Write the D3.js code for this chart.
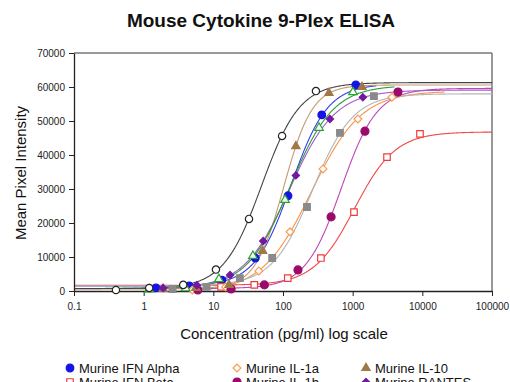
<!DOCTYPE html>
<html><head><meta charset="utf-8">
<script src="https://cdn.jsdelivr.net/npm/d3@7"></script>
<style>body{margin:0;background:#fff}svg{display:block;font-family:"Liberation Sans",Arial,sans-serif}</style>
</head><body>
<svg id="c" width="510" height="382"></svg>
<script>
// ---- data ----
const seriesNames = ["Murine IFN Alpha","Murine IFN Beta","Murine IL-1a","Murine IL-1b","Murine IL-10","Murine RANTES","Murine IL-6","Murine KC","Murine TNF Alpha"];
const concIFNa   = [1.5, 4.5, 13.3, 40, 118, 360, 1110];
const valIFNa    = [900, 1500, 3200, 9700, 28000, 51800, 60600];
const concIFNb   = [12.9, 38.7, 117, 350, 1045, 3110, 9250];
const valIFNb    = [1200, 1800, 3800, 9700, 23200, 39400, 46200];
const concIL1a   = [5, 15, 45, 126, 375, 1190, 3660];
const valIL1a    = [300, 1200, 5900, 17400, 35900, 50600, 57000];
const concIL1b   = [6, 18, 54, 164, 490, 1500, 4470];
const valIL1b    = [300, 600, 1800, 6200, 21800, 47000, 58500];
const concIL10   = [1.9, 5.6, 16.8, 51, 153, 457, 1360];
const valIL10    = [600, 900, 1800, 11800, 42600, 58200, 60000];
const concRANTES = [1.9, 5.8, 17.4, 52, 153, 472, 1400];
const valRANTES  = [900, 1700, 4700, 14700, 34000, 50600, 57000];
const concGreen  = [1.2, 4, 12, 37, 107, 329, 1010];
const valGreen   = [500, 800, 3500, 10300, 26800, 48000, 58500];
const concGray   = [2.6, 8, 24, 70, 221, 657, 2020];
const valGray    = [600, 1200, 3800, 9700, 24700, 46500, 57300];
const concBlack  = [0.4, 1.2, 3.7, 10.9, 32.5, 97, 297];
const valBlack   = [300, 900, 1800, 6300, 21200, 45600, 58800];
// upper asymptote of each fitted curve
const topPlateau = [60900, 46800, 58800, 59600, 60600, 59100, 60500, 58000, 61300];
const curveEnd   = [2200, 100000, 21000, 100000, 100000, 100000, 4000, 100000, 100000];
const xTicks = [0.1, 1, 10, 100, 1000, 10000, 100000];
const xTickLabels = ["0.1","1","10","100","1000","10000","100000"];
const yTicks = [0, 10000, 20000, 30000, 40000, 50000, 60000, 70000];

const concs = [concIFNa, concIFNb, concIL1a, concIL1b, concIL10, concRANTES, concGreen, concGray, concBlack];
const vals  = [valIFNa, valIFNb, valIL1a, valIL1b, valIL10, valRANTES, valGreen, valGray, valBlack];
const diamond = { draw(ctx, size) { const r = Math.sqrt(size) / Math.SQRT2; ctx.moveTo(0, -r); ctx.lineTo(r, 0); ctx.lineTo(0, r); ctx.lineTo(-r, 0); ctx.closePath(); } };
const styles = [
  {sym:d3.symbolCircle,  size:46, fill:"#1414e6", stroke:"#1414e6", line:"#3a3af0"},
  {sym:d3.symbolSquare,  size:42, fill:"#fff",    stroke:"#f03c3c", line:"#f04848"},
  {sym:diamond,          size:30, fill:"#fff",    stroke:"#fb9a4e", line:"#fb9244"},
  {sym:d3.symbolCircle,  size:50, fill:"#990a6a", stroke:"#990a6a", line:"#c046b4"},
  {sym:d3.symbolTriangle,size:30, fill:"#a07848", stroke:"#a07848", line:"#c49a70"},
  {sym:diamond,          size:26, fill:"#7318a0", stroke:"#7318a0", line:"#a65ad0"},
  {sym:d3.symbolTriangle,size:32, fill:"#fff",    stroke:"#22a829", line:"#2aa02f"},
  {sym:d3.symbolSquare,  size:44, fill:"#8a8a8a", stroke:"#8a8a8a", line:"#b4b4b4"},
  {sym:d3.symbolCircle,  size:42, fill:"#fff",    stroke:"#222",    line:"#444"}
];

// ---- 4PL fit with fixed top (Nelder-Mead) ----
function nelderMead(f, x0, steps, iters) {
  const n = x0.length;
  let S = [x0.slice()];
  for (let i = 0; i < n; i++) { const p = x0.slice(); p[i] += steps[i]; S.push(p); }
  let F = S.map(f);
  for (let it = 0; it < iters; it++) {
    const idx = d3.range(n + 1).sort((a, b) => F[a] - F[b]);
    S = idx.map(i => S[i]); F = idx.map(i => F[i]);
    const c = d3.range(n).map(j => d3.mean(S.slice(0, n), p => p[j]));
    const w = S[n];
    const xr = c.map((v, j) => v + (v - w[j])); const fr = f(xr);
    if (fr < F[0]) {
      const xe = c.map((v, j) => v + 2 * (v - w[j])); const fe = f(xe);
      if (fe < fr) { S[n] = xe; F[n] = fe; } else { S[n] = xr; F[n] = fr; }
    } else if (fr < F[n - 1]) { S[n] = xr; F[n] = fr; }
    else {
      const xc = c.map((v, j) => v + 0.5 * (w[j] - v)); const fc = f(xc);
      if (fc < F[n]) { S[n] = xc; F[n] = fc; }
      else { for (let i = 1; i <= n; i++) { S[i] = S[i].map((v, j) => S[0][j] + 0.5 * (v - S[0][j])); F[i] = f(S[i]); } }
    }
  }
  return S[d3.minIndex(F)];
}
function fourPL(A, D, lc, B, x) { return D + (A - D) / (1 + Math.pow(x / Math.pow(10, lc), B)); }
function fit(cs, vs, D) {
  const f = p => { if (p[2] <= 0.2 || p[2] > 5) return 1e30; return d3.sum(cs, (c, i) => (fourPL(p[0], D, p[1], p[2], c) - vs[i]) ** 2); };
  let best = null, bf = Infinity;
  const lmid = d3.mean(cs, c => Math.log10(c));
  for (const B0 of [0.8, 1.2, 1.8]) for (const dl of [-0.3, 0, 0.3]) {
    let p = [d3.min(vs), lmid + dl, B0];
    for (let k = 0; k < 3; k++) p = nelderMead(f, p, [300, 0.2, 0.2], 500);
    const v = f(p); if (v < bf) { bf = v; best = p; }
  }
  return x => fourPL(best[0], D, best[1], best[2], x);
}

// ---- drawing ----
const svg = d3.select("#c");
const x = d3.scaleLog().domain([0.1, 100000]).range([74, 492]);
const y = d3.scaleLinear().domain([0, 70000]).range([291, 53]);

svg.append("text").attr("x", 261).attr("y", 27).attr("text-anchor", "middle")
  .attr("font-size", 19).attr("font-weight", "bold").attr("fill", "#111").text("Mouse Cytokine 9-Plex ELISA");

svg.append("defs").append("clipPath").attr("id", "clip").append("rect")
  .attr("x", 74).attr("y", 53).attr("width", 418).attr("height", 238);

// frame
svg.append("line").attr("x1", 74).attr("x2", 492).attr("y1", 53).attr("y2", 53).attr("stroke", "#777").attr("stroke-width", 1.5);
svg.append("line").attr("x1", 492).attr("x2", 492).attr("y1", 53).attr("y2", 291).attr("stroke", "#777").attr("stroke-width", 1.5);

const gCurves = svg.append("g").attr("clip-path", "url(#clip)");
const line = d3.line().x(d => x(d[0])).y(d => y(d[1]));
concs.forEach((cs, i) => {
  const fn = fit(cs, vals[i], topPlateau[i]);
  const l1 = Math.log10(curveEnd[i]);
  const pts = d3.range(-1, l1 + 1e-9, 0.01).map(l => [Math.pow(10, l), fn(Math.pow(10, l))]);
  gCurves.append("path").attr("d", line(pts)).attr("fill", "none").attr("stroke", styles[i].line).attr("stroke-width", 1.1);
});

// axes
const ax = svg.append("g").attr("transform", "translate(0,291)")
  .call(d3.axisBottom(x).tickValues(xTicks).tickFormat((d, i) => xTickLabels[i]).tickSize(5).tickSizeOuter(0).tickPadding(7));
const ay = svg.append("g").attr("transform", "translate(74,0)")
  .call(d3.axisLeft(y).tickValues(yTicks).tickFormat(d3.format("d")).tickSize(5).tickSizeOuter(0).tickPadding(4));
[ax, ay].forEach(g => {
  g.selectAll("text").attr("font-size", 10).attr("fill", "#222").attr("font-family", "Liberation Sans, Arial, sans-serif");
  g.select(".domain").attr("stroke", "#222").attr("stroke-width", 1.3);
  g.selectAll(".tick line").attr("stroke", "#222");
});

// markers
concs.forEach((cs, i) => {
  const s = styles[i];
  svg.append("g").selectAll("path").data(cs.map((c, j) => [c, vals[i][j]])).join("path")
    .attr("transform", d => `translate(${x(d[0])},${y(d[1])})`)
    .attr("d", d3.symbol().type(s.sym).size(s.size))
    .attr("fill", s.fill).attr("stroke", s.stroke).attr("stroke-width", 1.2);
});

// axis titles
svg.append("text").attr("transform", "translate(26,173) rotate(-90)").attr("text-anchor", "middle")
  .attr("font-size", 15).attr("fill", "#111").text("Mean Pixel Intensity");
svg.append("text").attr("x", 284).attr("y", 339).attr("text-anchor", "middle")
  .attr("font-size", 15).attr("fill", "#111").text("Concentration (pg/ml) log scale");

// legend (3 columns); only the first two rows fall inside the picture
const legCols = [70, 237, 366];
const legendOrder = [0, 2, 4, 1, 3, 5];
legendOrder.forEach((si, k) => {
  const col = k % 3, row = Math.floor(k / 3);
  const lx = legCols[col], ly = 368 + row * 14;
  const s = styles[si];
  svg.append("path").attr("transform", `translate(${lx},${ly})`).attr("d", d3.symbol().type(s.sym).size(s.size))
    .attr("fill", s.fill).attr("stroke", s.stroke).attr("stroke-width", 1.2);
  svg.append("text").attr("x", lx + 9).attr("y", ly + 4.5).attr("font-size", 13).attr("fill", "#111").text(seriesNames[si]);
});
</script>
</body></html>
